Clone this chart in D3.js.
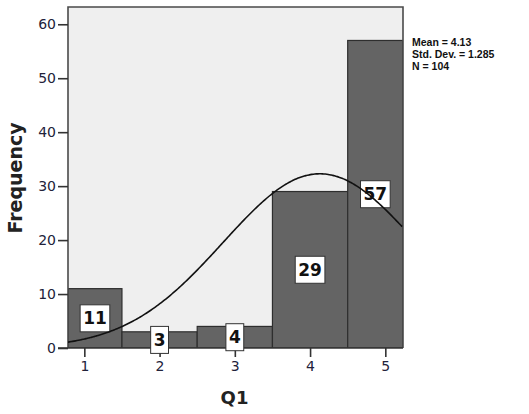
<!DOCTYPE html>
<html><head><meta charset="utf-8">
<script src="https://cdn.jsdelivr.net/npm/d3@7"></script>
<style>body{margin:0;background:#fff}svg{display:block}</style>
</head><body>
<svg id="c" width="529" height="414"></svg>
<script>
const categories = [1, 2, 3, 4, 5];
const counts = [11, 3, 4, 29, 57];
const yTicks = [0, 10, 20, 30, 40, 50, 60];
const xTicks = [1, 2, 3, 4, 5];
const statsLines = ["Mean = 4.13", "Std. Dev. = 1.285", "N = 104"];
const stats = {mean: 4.13, sd: 1.285, n: 104, binWidth: 1};

const svg = d3.select("#c");
const L = 68, R = 403, T = 7, B = 348;
const x = d3.scaleLinear().domain([0.783, 5.235]).range([L, R]);
const y = d3.scaleLinear().domain([0, 63.2]).range([B, T]);

svg.append("defs").append("clipPath").attr("id", "pc")
  .append("rect").attr("x", L).attr("y", T).attr("width", R - L).attr("height", B - T);

// plot background
svg.append("rect").attr("x", L).attr("y", T).attr("width", R - L).attr("height", B - T)
  .attr("fill", "#efefef");

const data = categories.map((c, i) => ({c, v: counts[i],
  x0: Math.max(x(c - 0.5), L), x1: Math.min(x(c + 0.5), R)}));

const g = svg.append("g").attr("clip-path", "url(#pc)");
g.selectAll("rect.bar").data(data).enter().append("rect")
  .attr("class", "bar")
  .attr("x", d => d.x0).attr("width", d => d.x1 - d.x0)
  .attr("y", d => y(d.v)).attr("height", d => B - y(d.v))
  .attr("fill", "#646464").attr("stroke", "#2e2e2e").attr("stroke-width", 1.2);

// frame
svg.append("path")
  .attr("d", `M${L},${B}V${T}H${R}V${B}`)
  .attr("fill", "none").attr("stroke", "#4a4a4a").attr("stroke-width", 1.6);

// y axis
const yAxis = d3.axisLeft(y).tickValues(yTicks).tickSize(10).tickPadding(2).tickSizeOuter(0).tickFormat(d3.format("d"));
const ya = svg.append("g").attr("transform", `translate(${L},0)`).call(yAxis);
ya.select(".domain").remove();
ya.selectAll(".tick line").attr("stroke", "#333").attr("stroke-width", 1.6);
ya.selectAll(".tick text").attr("font-family", "DejaVu Sans").attr("font-size", 14).attr("fill", "#22223a");

// x axis
const xAxis = d3.axisBottom(x).tickValues(xTicks).tickSize(9).tickPadding(4).tickSizeOuter(0).tickFormat(d3.format("d"));
const xa = svg.append("g").attr("transform", `translate(0,${B})`).call(xAxis);
xa.select(".domain").remove();
xa.selectAll(".tick line").attr("stroke", "#333").attr("stroke-width", 1.6);
xa.selectAll(".tick text").attr("font-family", "DejaVu Sans").attr("font-size", 14).attr("fill", "#22223a");
svg.append("line").attr("x1", L - 10).attr("x2", R).attr("y1", B).attr("y2", B)
  .attr("stroke", "#333").attr("stroke-width", 1.6);

// value labels
const lab = svg.append("g");
data.forEach(d => {
  const cx = (d.x0 + d.x1) / 2, cy = (y(d.v) + B) / 2;
  const gg = lab.append("g");
  const t = gg.append("text").attr("x", cx).attr("y", cy + 6).attr("text-anchor", "middle")
    .attr("font-family", "DejaVu Sans").attr("font-weight", "bold").attr("font-size", 17)
    .attr("fill", "#111").text(d.v);
  const w = t.node().getComputedTextLength() + 6;
  gg.insert("rect", "text").attr("x", cx - w / 2).attr("y", cy - 13.5).attr("width", w).attr("height", 27)
    .attr("fill", "#fff").attr("stroke", "#333").attr("stroke-width", 1);
});

// normal curve from the displayed stats (drawn above the labels)
const xs = d3.range(0.783, 5.236, 0.02);
const dens = v => stats.n * stats.binWidth / (stats.sd * Math.sqrt(2 * Math.PI)) *
  Math.exp(-0.5 * Math.pow((v - stats.mean) / stats.sd, 2));
svg.append("g").attr("clip-path", "url(#pc)").append("path").datum(xs)
  .attr("d", d3.line().x(v => x(v)).y(v => y(dens(v))).curve(d3.curveBasis))
  .attr("fill", "none").attr("stroke", "#111").attr("stroke-width", 1.6);

// axis titles
svg.append("text").attr("transform", "translate(22,178) rotate(-90)").attr("text-anchor", "middle")
  .attr("font-family", "DejaVu Sans").attr("font-weight", "bold").attr("font-size", 19)
  .attr("fill", "#222").text("Frequency");
svg.append("text").attr("x", 234.5).attr("y", 404).attr("text-anchor", "middle")
  .attr("font-family", "DejaVu Sans").attr("font-weight", "bold").attr("font-size", 18)
  .attr("fill", "#222").text("Q1");

// stats
svg.append("g").selectAll("text").data(statsLines).enter().append("text")
  .attr("x", 412).attr("y", (d, i) => 45.5 + i * 12.2)
  .attr("font-family", "Liberation Sans").attr("font-weight", "bold").attr("font-size", 10.5)
  .attr("fill", "#111").text(d => d);
</script>
</body></html>
